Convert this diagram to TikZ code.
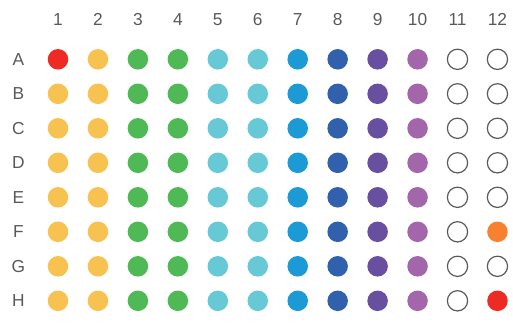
\documentclass[tikz,border=0pt]{standalone}
\usepackage{fontspec}
\setmainfont{Liberation Sans}
\usetikzlibrary{arrows.meta}
\definecolor{wellred}{HTML}{EE2A24}
\definecolor{wellyellow}{HTML}{F7C24F}
\definecolor{wellgreen}{HTML}{4FB955}
\definecolor{wellcyan}{HTML}{67C9D5}
\definecolor{wellblue}{HTML}{1B9AD6}
\definecolor{wellnavy}{HTML}{3161AC}
\definecolor{wellpurple}{HTML}{684F9F}
\definecolor{welllilac}{HTML}{A366AA}
\definecolor{wellorange}{HTML}{F7812F}
\definecolor{labelgray}{HTML}{595959}

\begin{document}
\begin{tikzpicture}[x=0.75pt,y=-0.75pt,
  well/.style={circle,inner sep=0pt,minimum size=15.4pt},
  emptywell/.style={well,draw=labelgray,line width=0.9pt,minimum size=15.2pt},
  lbl/.style={text=labelgray,font=\fontsize{13}{15}\selectfont}]
\useasboundingbox (0,0) rectangle (513,322);
\foreach \c in {1,...,12}
  \node[lbl] (col\c) at ({58+39.95*(\c-1)},19.5) {\c};
\foreach \r [count=\i] in {A,...,H}
  \node[lbl] (row\r) at (18.3,{59.3+34.5*(\i-1)}) {\r};
\node[well,fill=wellred] (wA1) at (58,59.3) {};
\foreach \r [count=\i from 2] in {B,...,H}
  \node[well,fill=wellyellow] (w\r1) at (58,{59.3+34.5*(\i-1)}) {};
\foreach \c/\fillc in {2/wellyellow,3/wellgreen,4/wellgreen,5/wellcyan,6/wellcyan,7/wellblue,8/wellnavy,9/wellpurple,10/welllilac}
  \foreach \r [count=\i] in {A,...,H}
    \node[well,fill=\fillc] (w\r\c) at ({58+39.95*(\c-1)},{59.3+34.5*(\i-1)}) {};
\foreach \r [count=\i] in {A,...,H}
  \node[emptywell] (w\r11) at ({58+39.95*10},{59.3+34.5*(\i-1)}) {};
\foreach \r/\i in {A/1,B/2,C/3,D/4,E/5,G/7}
  \node[emptywell] (w\r12) at ({58+39.95*11},{59.3+34.5*(\i-1)}) {};
\node[well,fill=wellorange] (wF12) at ({58+39.95*11},{59.3+34.5*5}) {};
\node[well,fill=wellred] (wH12) at ({58+39.95*11},{59.3+34.5*7}) {};
\end{tikzpicture}
\end{document}
